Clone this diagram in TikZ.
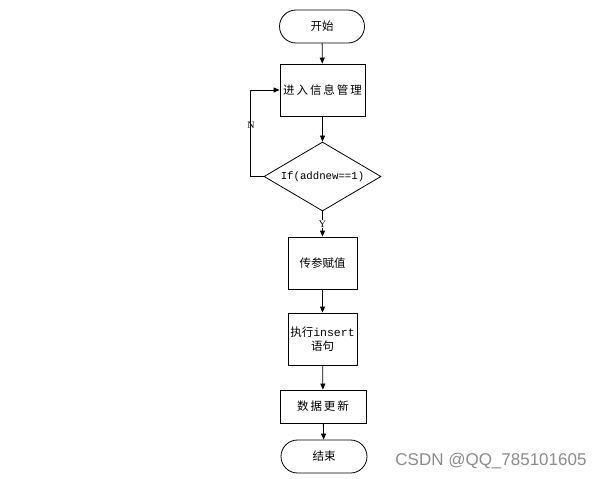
\documentclass[tikz,border=0pt]{standalone}
\usepackage{fontspec}
\setmainfont{Liberation Serif}
\setmonofont{Liberation Mono}
\newfontfamily\cjk{Noto Sans CJK SC}
\newfontfamily\wm{Liberation Sans}
\usetikzlibrary{arrows.meta,shapes.geometric}
\begin{document}
\begin{tikzpicture}[x=1pt,y=-1pt,
  line width=0.8pt,
  term/.style={draw,rounded corners=16.5pt,minimum width=85pt,minimum height=33pt,inner sep=0pt,font=\cjk\fontsize{11.5}{13}\selectfont},
  procbox/.style={draw,minimum width=#1,inner sep=0pt,font=\cjk\fontsize{11.5}{14}\selectfont,align=center},
  decide/.style={draw,diamond,aspect=1.7,minimum width=117pt,minimum height=69pt,inner sep=0pt,font=\ttfamily\fontsize{10.7}{12}\selectfont},
  arr/.style={draw,-{Triangle[length=6pt,width=5pt]}},
  lbl/.style={font=\fontsize{10}{11}\selectfont}
]
\useasboundingbox (0,0) rectangle (606,479);
\fill[white] (0,0) rectangle (606,479);
\node[term] (start) at (322,26.5) {开始};
\node[procbox=85pt,minimum height=52pt] (info) at (322.5,90) {进\,入\,信\,息\,管\,理};
\node[decide,minimum width=117pt,minimum height=69pt] (dec) at (322.5,176.5) {If(addnew==1)};
\node[procbox=69pt,minimum height=52pt] (param) at (322.5,263) {传参赋值};
\node[procbox=69pt,minimum height=52pt] (ins) at (322.5,339) {执行{\ttfamily insert}\\语句};
\node[procbox=86pt,minimum height=33pt] (upd) at (323,406.5) {数\,据\,更\,新};
\node[term,minimum width=86pt] (end) at (324,456.5) {结束};
\coordinate (c1) at (250,176.5);
\coordinate (c2) at (250,90);
\draw[arr] (start) -- (info);
\draw[arr] (info) -- (dec);
\draw[arr] (dec) -- node[lbl,fill=white,inner sep=1pt]{Y} (param);
\draw[arr] (ins) -- (upd);
\draw[arr] (param) -- (ins);
\draw[arr] (upd) -- (end);
\draw[arr] (dec.west) -- (c1) -- (c2) -- (info.west);
\node[lbl] (nlab) at (251,125) {N};
\node[font=\wm\fontsize{17}{19}\selectfont,text=black!45,anchor=west,inner sep=0pt] (wmk) at (395,461) {CSDN @QQ\_785101605};
\end{tikzpicture}
\end{document}
